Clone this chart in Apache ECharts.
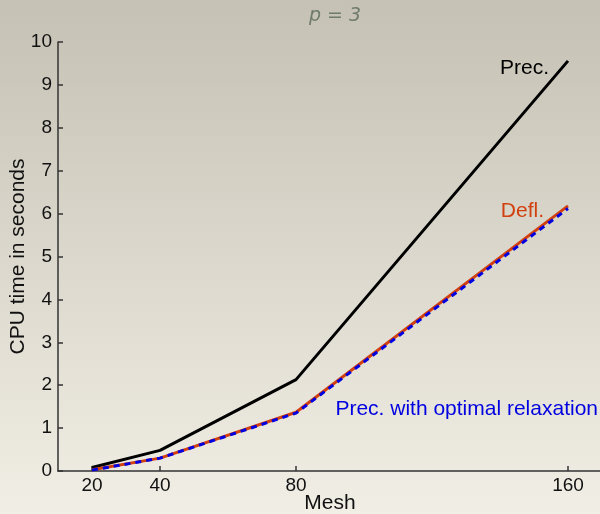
<!DOCTYPE html>
<html>
<head>
<meta charset="utf-8">
<script src="https://cdn.jsdelivr.net/npm/echarts@6/dist/echarts.min.js"></script>
<style>
  html, body { margin: 0; padding: 0; }
  #chart { width: 600px; height: 514px; }
</style>
</head>
<body>
<div id="chart"></div>
<script>
const meshSizes = [20, 40, 80, 160];
const precTimes = [0.08, 0.48, 2.13, 9.56];
const deflTimes = [0.03, 0.30, 1.37, 6.18];
const optRelaxTimes = [0.02, 0.30, 1.35, 6.12];

const toPairs = (ys) => meshSizes.map((x, i) => [x, ys[i]]);

const chart = echarts.init(document.getElementById('chart'));

const font = 'Liberation Sans, Arial, sans-serif';

const option = {
  backgroundColor: {
    type: 'linear', x: 0, y: 0, x2: 0, y2: 1,
    colorStops: [
      { offset: 0, color: '#c5c1b4' },
      { offset: 1, color: '#f1eee5' }
    ]
  },
  animation: false,
  title: {
    text: 'p = 3',
    left: 304,
    top: 2,
    textStyle: { fontFamily: 'DejaVu Sans, sans-serif', fontStyle: 'italic', fontWeight: 'normal', fontSize: 19, color: '#6f7b6c' }
  },
  grid: { left: 58, top: 42, width: 544, height: 429, containLabel: false, outerBoundsMode: 'none' },
  xAxis: {
    type: 'value',
    min: 10,
    max: 170,
    name: 'Mesh',
    nameLocation: 'middle',
    nameGap: 22,
    nameMoveOverlap: false,
    nameTextStyle: { fontFamily: font, fontSize: 21, color: '#111' },
    axisLine: { lineStyle: { color: '#333', width: 1.5 } },
    axisTick: { inside: true, length: 5, customValues: meshSizes, lineStyle: { color: '#333', width: 1.5 } },
    axisLabel: { customValues: meshSizes, fontFamily: font, fontSize: 19, color: '#111', margin: 5 },
    splitLine: { show: false }
  },
  yAxis: {
    type: 'value',
    min: 0,
    max: 10,
    interval: 1,
    name: 'CPU time in seconds',
    nameLocation: 'middle',
    nameGap: 29,
    nameMoveOverlap: false,
    nameTextStyle: { fontFamily: font, fontSize: 21, color: '#111' },
    axisLine: { show: true, lineStyle: { color: '#333', width: 1.5 } },
    axisTick: { show: true, inside: true, length: 5, lineStyle: { color: '#333', width: 1.5 } },
    axisLabel: { fontFamily: font, fontSize: 19, color: '#111', margin: 6 },
    splitLine: { show: false }
  },
  series: [
    {
      name: 'Prec.',
      type: 'line',
      data: toPairs(precTimes),
      symbol: 'none',
      lineStyle: { color: '#000', width: 3 }
    },
    {
      name: 'Defl.',
      type: 'line',
      data: toPairs(deflTimes),
      symbol: 'none',
      lineStyle: { color: '#d2400f', width: 3 }
    },
    {
      name: 'Prec. with optimal relaxation',
      type: 'line',
      data: toPairs(optRelaxTimes),
      symbol: 'none',
      lineStyle: { color: '#0000e0', width: 3, type: [6, 5] }
    }
  ],
  graphic: [
    { type: 'text', x: 549, y: 58, style: { text: 'Prec.', fill: '#000', font: '21px ' + font, align: 'right' } },
    { type: 'text', x: 544, y: 201, style: { text: 'Defl.', fill: '#d2400f', font: '21px ' + font, align: 'right' } },
    { type: 'text', x: 598, y: 399, style: { text: 'Prec. with optimal relaxation', fill: '#0000e0', font: '21px ' + font, align: 'right' } }
  ]
};

chart.setOption(option);
</script>
</body>
</html>
